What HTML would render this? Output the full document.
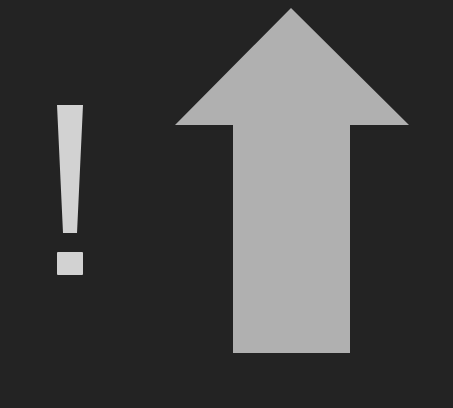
<!DOCTYPE html>
<html><head><meta charset="utf-8"><style>
html,body{margin:0;padding:0;background:#232323;width:453px;height:408px;overflow:hidden}
</style></head><body>
<svg width="453" height="408" viewBox="0 0 453 408" xmlns="http://www.w3.org/2000/svg">
<rect x="0" y="0" width="453" height="408" fill="#232323"/>
<g fill="#d2d2d2">
<polygon points="57,105 83,105 77,233 63,233"/>
<rect x="57" y="252" width="26" height="23" rx="1"/>
</g>
<polygon fill="#b0b0b0" points="291,8 409,125 350,125 350,353 233,353 233,125 175,125"/>
</svg>
</body></html>
